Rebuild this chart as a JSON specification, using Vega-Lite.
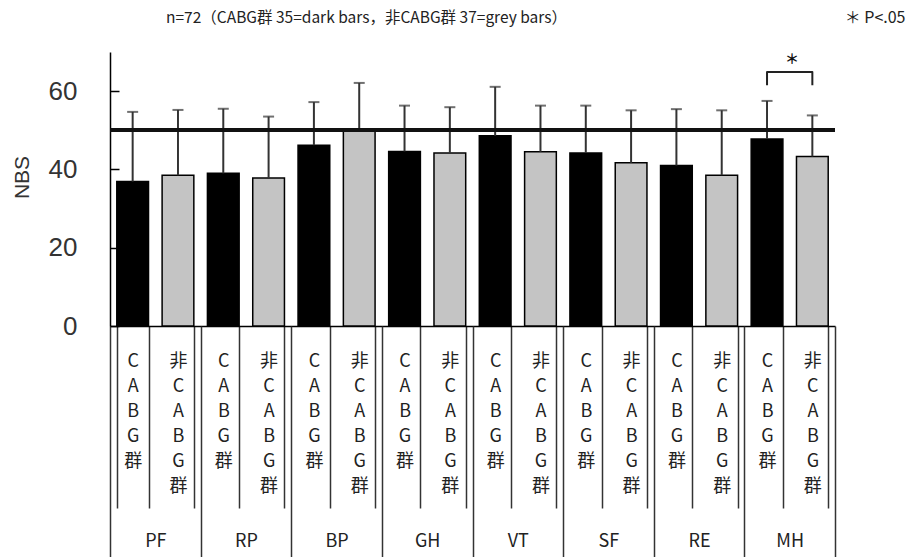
{
  "$schema": "https://vega.github.io/schema/vega-lite/v6.json",
  "width": 725,
  "height": 274,
  "autosize": {"type": "none"},
  "padding": {"left": 110, "top": 52, "right": 74, "bottom": 231},
  "background": "white",
  "config": {
    "view": {"stroke": null},
    "font": "Noto Sans CJK JP"
  },
  "datasets": {
    "bars": [
      {"group": "PF", "cls": "CABG群", "key": "PF|CABG群", "mean": 36.9, "upper": 54.7},
      {"group": "PF", "cls": "非CABG群", "key": "PF|非CABG群", "mean": 38.5, "upper": 55.2},
      {"group": "RP", "cls": "CABG群", "key": "RP|CABG群", "mean": 39.0, "upper": 55.5},
      {"group": "RP", "cls": "非CABG群", "key": "RP|非CABG群", "mean": 37.8, "upper": 53.5},
      {"group": "BP", "cls": "CABG群", "key": "BP|CABG群", "mean": 46.2, "upper": 57.2},
      {"group": "BP", "cls": "非CABG群", "key": "BP|非CABG群", "mean": 50.0, "upper": 62.1},
      {"group": "GH", "cls": "CABG群", "key": "GH|CABG群", "mean": 44.6, "upper": 56.3},
      {"group": "GH", "cls": "非CABG群", "key": "GH|非CABG群", "mean": 44.2, "upper": 55.9},
      {"group": "VT", "cls": "CABG群", "key": "VT|CABG群", "mean": 48.6, "upper": 61.1},
      {"group": "VT", "cls": "非CABG群", "key": "VT|非CABG群", "mean": 44.5, "upper": 56.3},
      {"group": "SF", "cls": "CABG群", "key": "SF|CABG群", "mean": 44.2, "upper": 56.3},
      {"group": "SF", "cls": "非CABG群", "key": "SF|非CABG群", "mean": 41.7, "upper": 55.1},
      {"group": "RE", "cls": "CABG群", "key": "RE|CABG群", "mean": 41.0, "upper": 55.4},
      {"group": "RE", "cls": "非CABG群", "key": "RE|非CABG群", "mean": 38.5, "upper": 55.1},
      {"group": "MH", "cls": "CABG群", "key": "MH|CABG群", "mean": 47.8, "upper": 57.5},
      {"group": "MH", "cls": "非CABG群", "key": "MH|非CABG群", "mean": 43.3, "upper": 53.8}
    ],
    "bracket": [
      {"key": "MH|CABG群", "y": 61.5, "order": 1},
      {"key": "MH|CABG群", "y": 64.9, "order": 2},
      {"key": "MH|非CABG群", "y": 64.9, "order": 3},
      {"key": "MH|非CABG群", "y": 61.5, "order": 4}
    ],
    "sig": [
      {"key": "MH|CABG群", "y": 67.9, "label": "＊"}
    ],
    "groups": [
      {"group": "PF"}, {"group": "RP"}, {"group": "BP"}, {"group": "GH"},
      {"group": "VT"}, {"group": "SF"}, {"group": "RE"}, {"group": "MH"}
    ]
  },
  "layer": [
    {
      "data": {"name": "bars"},
      "layer": [
        {
          "mark": {"type": "bar", "stroke": "#000", "strokeWidth": 1.5},
          "encoding": {
            "x": {
              "field": "key",
              "type": "nominal",
              "sort": null,
              "scale": {
                "domain": ["PF|CABG群", "PF|非CABG群", "RP|CABG群", "RP|非CABG群", "BP|CABG群", "BP|非CABG群", "GH|CABG群", "GH|非CABG群", "VT|CABG群", "VT|非CABG群", "SF|CABG群", "SF|非CABG群", "RE|CABG群", "RE|非CABG群", "MH|CABG群", "MH|非CABG群"],
                "paddingInner": 0.3,
                "paddingOuter": 0.15
              },
              "axis": {
                "orient": "bottom",
                "title": "n=72（CABG群 35=dark bars，非CABG群 37=grey bars）",
                "titleX": 256,
                "titleY": -309,
                "titleAlign": "center",
                "titleBaseline": "middle",
                "titleFont": "Noto Sans CJK JP",
                "titleFontSize": 15.5,
                "titleFontWeight": "normal",
                "titleColor": "#222",
                "tickBand": "extent",
                "tickSize": 182,
                "tickColor": "#333",
                "tickWidth": 1.5,
                "domainColor": "#000",
                "domainWidth": 1.5,
                "labelExpr": "isString(datum.value) && indexof(datum.value,'|') >= 0 ? split(split(datum.value,'|')[1],'') : ''",
                "labelFont": "Noto Sans CJK JP",
                "labelFontSize": 18,
                "labelLineHeight": 25,
                "labelPadding": -156,
                "labelColor": "#222",
                "labelAngle": 0,
                "labelBaseline": "top",
                "labelOverlap": false,
                "labelBound": false,
                "labelFlush": false
              }
            },
            "y": {
              "field": "mean",
              "type": "quantitative",
              "scale": {"domain": [0, 70]},
              "axis": {
                "values": [0, 10, 20, 30, 40, 50, 60, 70],
                "title": "NBS",
                "grid": false,
                "labelOverlap": false,
                "labelSeparation": -15,
                "labelFlush": false,
                "labelBound": false,
                "tickSize": -9,
                "tickColor": "#000",
                "tickWidth": 1.5,
                "domainColor": "#000",
                "domainWidth": 1.5,
                "labelPadding": 42,
                "labelFont": "Liberation Sans",
                "labelFontSize": 26,
                "labelColor": "#333",
                "titleFont": "Liberation Sans",
                "titleFontSize": 21,
                "titleFontWeight": "normal",
                "titleColor": "#333",
                "titleX": -78,
                "titleY": 125
              }
            },
            "color": {
              "field": "cls",
              "type": "nominal",
              "scale": {"domain": ["CABG群", "非CABG群"], "range": ["#000000", "#c4c4c4"]},
              "legend": null
            }
          }
        },
        {
          "mark": {"type": "rule", "color": "#333", "strokeWidth": 2},
          "encoding": {
            "x": {"field": "key", "type": "nominal", "sort": null},
            "y": {"field": "mean", "type": "quantitative"},
            "y2": {"field": "upper"}
          }
        },
        {
          "mark": {"type": "tick", "color": "#333", "thickness": 2, "size": 11},
          "encoding": {
            "x": {"field": "key", "type": "nominal", "sort": null},
            "y": {"field": "upper", "type": "quantitative"}
          }
        },
        {
          "mark": {"type": "rule", "color": "#111", "strokeWidth": 3.5},
          "encoding": {"y": {"datum": 50}}
        },
        {
          "data": {"name": "bracket"},
          "mark": {"type": "line", "color": "#222", "strokeWidth": 2, "strokeJoin": "round"},
          "encoding": {
            "x": {"field": "key", "type": "nominal", "sort": null},
            "y": {"field": "y", "type": "quantitative"},
            "order": {"field": "order", "type": "quantitative"}
          }
        },
        {
          "data": {"name": "sig"},
          "mark": {"type": "text", "dx": 25, "fontSize": 14, "fontWeight": "bold", "color": "#111", "baseline": "middle", "align": "center"},
          "encoding": {
            "x": {"field": "key", "type": "nominal", "sort": null},
            "y": {"field": "y", "type": "quantitative"},
            "text": {"field": "label"}
          }
        }
      ]
    },
    {
      "data": {"name": "groups"},
      "mark": {"type": "point", "opacity": 0},
      "encoding": {
        "x": {
          "field": "group",
          "type": "nominal",
          "sort": null,
          "scale": {"padding": 0},
          "axis": {
            "orient": "bottom",
            "title": "＊ P<.05",
            "titleX": 795,
            "titleY": -309,
            "titleAlign": "right",
            "titleBaseline": "middle",
            "titleFont": "Noto Sans CJK JP",
            "titleFontSize": 16,
            "titleFontWeight": "normal",
            "titleColor": "#222",
            "tickBand": "extent",
            "tickSize": 231,
            "tickColor": "#333",
            "tickWidth": 1.5,
            "domain": false,
            "labelExpr": "isString(datum.value) ? datum.value : ''",
            "labelFont": "Noto Sans CJK JP",
            "labelFontSize": 18,
            "labelPadding": -25,
            "labelBaseline": "top",
            "labelAngle": 0,
            "labelColor": "#222"
          }
        }
      }
    }
  ],
  "resolve": {"scale": {"x": "independent"}, "axis": {"x": "independent"}}
}
